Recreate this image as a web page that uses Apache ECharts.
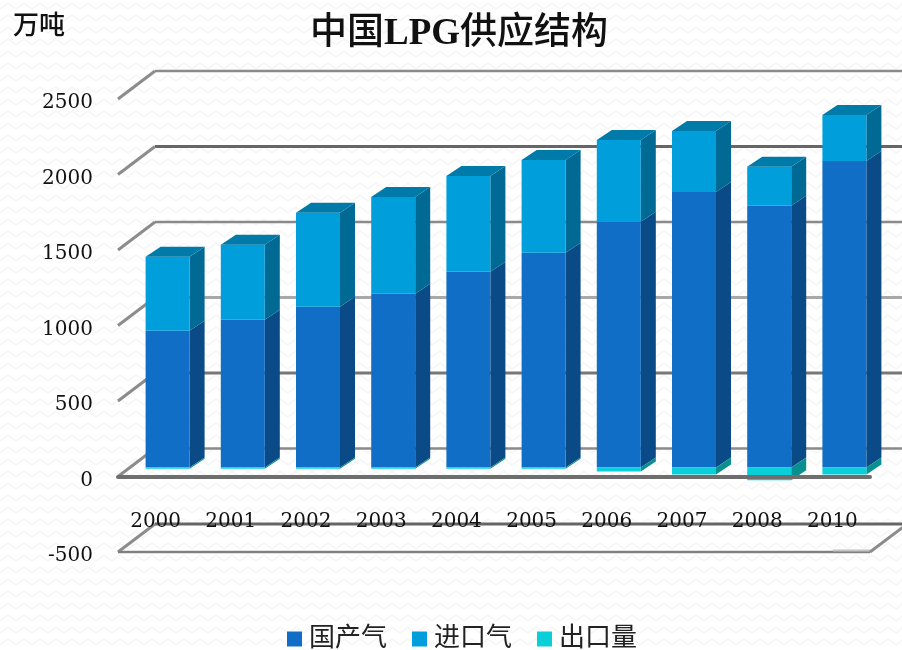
<!doctype html>
<html>

<head>
    <meta charset="utf-8">
    <title>中国LPG供应结构</title>
    <script src="https://cdn.jsdelivr.net/npm/echarts@6/dist/echarts.min.js"></script>
</head>

<body style="margin:0;padding:0">
    <div id="tb" style="width:902px;height:650px"></div>
    <script>
        var categories = ['2000', '2001', '2002', '2003', '2004', '2005', '2006', '2007', '2008', '2010'];
        var domestic = [906, 979, 1065, 1151, 1296, 1422, 1627, 1825, 1733, 2030];
        var imported = [490, 496, 622, 641, 635, 615, 542, 404, 258, 305];
        var exported = [-8, -8, -8, -8, -8, -8, -26, -46, -85, -46];
        var wallTicks = [-500, 0, 500, 1000, 1500, 2000, 2500];

        // 墙面线条样式,和 wallTicks 一一对应
        var wallColors = ['#666', '#8a8a8a', '#777', '#a8a8a8', '#8a8a8a', '#666', '#8a8a8a'];
        var wallWidths = [3, 2.5, 3, 3, 2.5, 3, 2.5];

        // 假3D的偏移量
        var wallDx = 37, wallDy = -28; // 后墙相对前面
        var barDx = 12, barDy = -9;    // 柱子相对前面
        var sideDx = 15, sideDy = -10; // 柱子厚度
        var barWidth = 44;

        var barFaces = {
            domestic: { front: '#106ec6', side: '#0a4a86' },
            imported: { front: '#009fdc', side: '#006a94', top: '#007aa8' },
            exported: { front: '#0acfd8', side: '#0a8f90' }
        };

        function poly(points, color) {
            return { type: 'polygon', shape: { points: points }, style: { fill: color } };
        }

        function barItem(faces) {
            return function (params, api) {
                var i = api.value(0);
                var p0 = api.coord([i, api.value(1)]);
                var p1 = api.coord([i, api.value(2)]);
                var l = p0[0] + barDx - barWidth / 2;
                var r = l + barWidth;
                var y0 = p0[1] + barDy;
                var y1 = p1[1] + barDy;
                var children = [
                    poly([[r, y0], [r + sideDx, y0 + sideDy], [r + sideDx, y1 + sideDy], [r, y1]], faces.side),
                    poly([[l, y0], [r, y0], [r, y1], [l, y1]], faces.front)
                ];
                if (faces.top) {
                    children.push(poly([[l, y1], [r, y1], [r + sideDx, y1 + sideDy], [l + sideDx, y1 + sideDy]], faces.top));
                }
                return { type: 'group', children: children };
            };
        }

        function wallItem(params, api) {
            var n = params.dataIndex;
            var y = api.coord([0, api.value(0)])[1];
            var left = params.coordSys.x;
            var right = left + params.coordSys.width;
            var line = function (x1, y1, x2, y2, color, width) {
                return {
                    type: 'line',
                    shape: { x1: x1, y1: y1, x2: x2, y2: y2 },
                    style: { stroke: color, lineWidth: width }
                };
            };
            var children = [
                line(left + wallDx, y + wallDy, right + wallDx, y + wallDy, wallColors[n], wallWidths[n]),
                line(left, y, left + wallDx, y + wallDy, '#8c8c8c', 3)
            ];
            if (n === 0) { // 底面:前边线和右边斜线
                children.push(line(left, y, right, y, '#808080', 2.5));
                children.push(line(right - wallDx, y - 1.5, right, y - 1.5, '#c4c4c4', 2));
                children.push(line(right, y, right + wallDx, y + wallDy, '#8c8c8c', 3));
            }
            return { type: 'group', children: children };
        }

        // 背景纹理
        function makeTexture() {
            var c = document.createElement('canvas');
            c.width = 16;
            c.height = 24;
            var ctx = c.getContext('2d');
            ctx.fillStyle = '#fff';
            ctx.fillRect(0, 0, 16, 24);
            ctx.strokeStyle = '#f7f7f7';
            ctx.lineWidth = 2;
            ctx.beginPath();
            ctx.moveTo(0, 9); ctx.lineTo(8, 3); ctx.lineTo(16, 9);
            ctx.moveTo(-8, 15); ctx.lineTo(0, 21); ctx.lineTo(8, 15); ctx.lineTo(16, 21);
            ctx.stroke();
            return c;
        }

        var serifFont = '"Liberation Serif", "Noto Sans CJK SC", serif';
        var numFont = '"DejaVu Serif", "Liberation Serif", serif';

        function toItems(from, to) {
            return categories.map(function (c, i) {
                return [i, from ? from[i] : 0, to[i]];
            });
        }
        var stackTop = domestic.map(function (v, i) { return v + imported[i]; });

        var bt = document.getElementById('tb');
        var btchart = echarts.init(bt);
        btchart.setOption({
            animation: false,
            backgroundColor: { image: makeTexture(), repeat: 'repeat' },
            title: [{
                text: '{c|中国}{l|LPG}{c|供应结构}',
                left: 454,
                top: 11,
                textAlign: 'center',
                textStyle: {
                    rich: {
                        c: { fontSize: 37, fontWeight: 500, color: '#111', fontFamily: serifFont },
                        l: { fontSize: 37, fontWeight: 'bold', color: '#111', fontFamily: serifFont }
                    }
                }
            }, {
                text: '万吨',
                left: 8,
                top: 9,
                textStyle: { fontSize: 26, fontWeight: 500, color: '#111', fontFamily: serifFont }
            }],
            legend: {
                left: 282,
                top: 621,
                itemWidth: 15,
                itemHeight: 15,
                itemGap: 25,
                icon: 'rect',
                data: ['国产气', '进口气', '出口量'],
                textStyle: { fontSize: 26, color: '#222', padding: [0, 0, 0, 2], fontFamily: serifFont }
            },
            grid: { left: 118, right: 32, top: 99, bottom: 98 },
            xAxis: {
                type: 'category',
                data: categories,
                z: 5,
                axisLine: { onZero: true, lineStyle: { color: '#6e6e6e', width: 4 } },
                axisTick: { show: false },
                axisLabel: { interval: 0, margin: -40, fontSize: 20, color: '#111', fontFamily: numFont }
            },
            yAxis: {
                type: 'value',
                min: -500,
                max: 2500,
                interval: 500,
                axisLine: { show: false },
                axisTick: { show: false },
                splitLine: { show: false },
                axisLabel: {
                    margin: 25,
                    fontSize: 20,
                    verticalAlign: 'top',
                    lineHeight: 8,
                    color: '#111',
                    fontFamily: numFont,
                    formatter: function (v) { return String(v); }
                }
            },
            series: [{
                name: 'wall',
                type: 'custom',
                z: 1,
                silent: true,
                renderItem: wallItem,
                encode: { y: 0 },
                data: wallTicks.map(function (v) { return [v]; })
            }, {
                name: '国产气',
                type: 'custom',
                z: 2,
                renderItem: barItem(barFaces.domestic),
                itemStyle: { color: barFaces.domestic.front },
                encode: { x: 0, y: [1, 2] },
                data: toItems(null, domestic)
            }, {
                name: '进口气',
                type: 'custom',
                z: 3,
                renderItem: barItem(barFaces.imported),
                itemStyle: { color: barFaces.imported.front },
                encode: { x: 0, y: [1, 2] },
                data: toItems(domestic, stackTop)
            }, {
                name: '出口量',
                type: 'custom',
                z: 2,
                renderItem: barItem(barFaces.exported),
                itemStyle: { color: barFaces.exported.front },
                encode: { x: 0, y: [1, 2] },
                data: toItems(null, exported)
            }]
        });
    </script>
</body>

</html>
